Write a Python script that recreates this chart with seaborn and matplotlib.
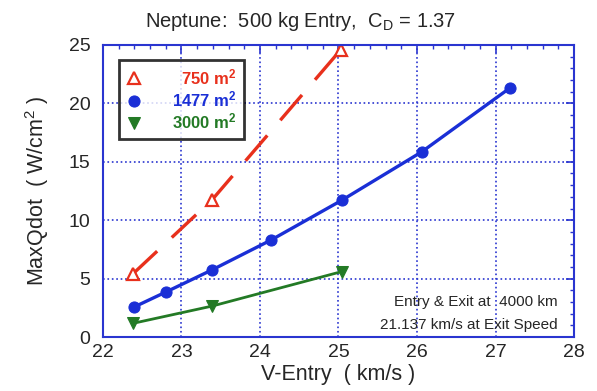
import pandas as pd
import seaborn as sns
from matplotlib import pyplot as plt
from matplotlib.ticker import MultipleLocator

# values
v_750 = [22.38, 23.39, 25.03]
q_750 = [5.4, 11.75, 24.6]
v_1477 = [22.39, 22.80, 23.39, 24.14, 25.04, 26.06, 27.19]
q_1477 = [2.55, 3.85, 5.75, 8.3, 11.7, 15.85, 21.35]
v_3000 = [22.38, 23.39, 25.04]
q_3000 = [1.17, 2.65, 5.6]

labels = ["\u2007750 m$^\\mathbf{2}$", "1477 m$^\\mathbf{2}$", "3000 m$^\\mathbf{2}$"]
colors = ["#e8301c", "#1a2fd6", "#237a25"]
axis_blue = "#2a35d0"


def main():
    sns.set_style("white")
    plt.rcParams["font.family"] = ["Liberation Sans", "DejaVu Sans"]
    plt.rcParams["mathtext.fontset"] = "custom"
    plt.rcParams["mathtext.rm"] = "Liberation Sans"
    plt.rcParams["mathtext.it"] = "Liberation Sans"
    plt.rcParams["mathtext.bf"] = "Liberation Sans:bold"

    df = pd.concat(
        [
            pd.DataFrame({"v": v_750, "q": q_750, "area": labels[0]}),
            pd.DataFrame({"v": v_1477, "q": q_1477, "area": labels[1]}),
            pd.DataFrame({"v": v_3000, "q": q_3000, "area": labels[2]}),
        ]
    )

    fig = plt.figure(figsize=(5.97, 3.91), dpi=100)
    ax = fig.add_axes([0.1725, 0.138, 0.789, 0.747])

    sub = df[df.area == labels[0]]
    sns.lineplot(x="v", y="q", data=sub, ax=ax, color=colors[0], lw=2.4,
                 marker="^", markersize=9, markerfacecolor="white",
                 markeredgecolor=colors[0], markeredgewidth=1.6,
                 label=labels[0])
    ax.lines[-1].set_dashes([10, 6])
    sub = df[df.area == labels[1]]
    sns.lineplot(x="v", y="q", data=sub, ax=ax, color=colors[1], lw=2.4,
                 marker="o", markersize=8, markeredgecolor=colors[1],
                 label=labels[1])
    sub = df[df.area == labels[2]]
    sns.lineplot(x="v", y="q", data=sub, ax=ax, color=colors[2], lw=2.0,
                 marker="v", markersize=8, markeredgecolor=colors[2],
                 label=labels[2])

    ax.set_xlim(22, 28)
    ax.set_ylim(0, 25)
    ax.xaxis.set_major_locator(MultipleLocator(1))
    ax.xaxis.set_minor_locator(MultipleLocator(0.2))
    ax.yaxis.set_major_locator(MultipleLocator(5))
    ax.yaxis.set_minor_locator(MultipleLocator(1))
    ax.grid(True, which="major", color=axis_blue, linestyle=":", lw=1.2)
    for sp in ax.spines.values():
        sp.set_color(axis_blue)
        sp.set_linewidth(1.5)
    ax.tick_params(which="both", direction="in", top=True, right=True,
                   color=axis_blue, labelsize=14)
    ax.tick_params(which="major", length=6, width=1.2)
    ax.tick_params(which="minor", length=3, width=1.0)
    ax.tick_params(axis="x", pad=5)
    ax.tick_params(axis="y", pad=9)

    ax.set_xlabel("V-Entry  ( km/s )", fontsize=15.5, labelpad=2)
    ax.set_ylabel("MaxQdot  ( W/cm$^2$ )", fontsize=15.5, labelpad=13)
    fig.text(0.503, 0.945, "Neptune:  500 kg Entry,  C$_\\mathrm{D}$ = 1.37",
             ha="center", va="center", fontsize=14.5)

    leg = ax.legend(loc="upper left", bbox_to_anchor=(0.035, 0.95),
                    borderaxespad=0, frameon=True, fancybox=False,
                    prop={"weight": "bold", "size": 12},
                    handlelength=0.8, handletextpad=1.9, borderpad=0.45,
                    labelspacing=0.15, markerfirst=True)
    leg.get_frame().set_edgecolor("black")
    leg.get_frame().set_linewidth(2)
    for line in leg.get_lines():
        line.set_linestyle("none")
    for text, c in zip(leg.get_texts(), colors):
        text.set_color(c)

    ax.text(0.966, 0.12, "Entry & Exit at  4000 km", transform=ax.transAxes,
            ha="right", va="center", fontsize=11)
    ax.text(0.966, 0.041, "21.137 km/s at Exit Speed", transform=ax.transAxes,
            ha="right", va="center", fontsize=11)

    fig.savefig("out.png", dpi=100)


if __name__ == "__main__":
    main()
